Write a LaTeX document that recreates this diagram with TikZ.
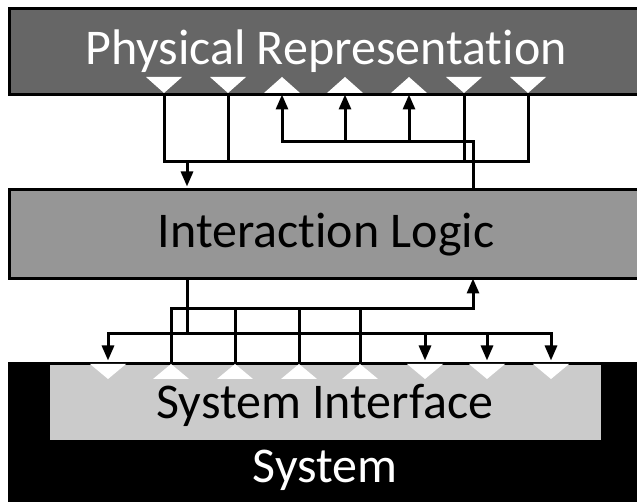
\documentclass[tikz,border=0pt]{standalone}
\usepackage{fontspec}
\setmainfont{Carlito}[Ligatures=NoCommon]
\usetikzlibrary{arrows.meta}
\definecolor{physgray}{HTML}{666666}
\definecolor{logicgray}{HTML}{969696}
\definecolor{ifacegray}{HTML}{CBCBCB}
\begin{document}
\begin{tikzpicture}[x=1pt,y=-1pt,
  layer/.style={draw=black, line width=3pt, rectangle, anchor=north west, inner sep=0pt},
  caption/.style={font=\fontsize{50}{50}\selectfont, anchor=base, inner sep=0pt},
  wire/.style={line width=3pt, line cap=rect},
  arr/.style={line width=3pt, -{Triangle[length=15pt,width=12pt]}},
  porttri/.style={fill=white, draw=none}]
\useasboundingbox (0,0) rectangle (637,502);
\clip (0,0) rectangle (637,502);

% layers
\node[layer, fill=physgray, minimum width=640pt, minimum height=86pt] (phys) at (8,7) {};
\node[layer, fill=logicgray, minimum width=640pt, minimum height=89pt] (logic) at (8,188) {};
\node[layer, fill=black, minimum width=640pt, minimum height=150pt] (sys) at (8,362) {};
\node[fill=ifacegray, anchor=north west, minimum width=551pt, minimum height=75pt, inner sep=0pt] (iface) at (50,365) {};

% labels
\node[caption, text=white] (physlbl) at (326,65) {Physical Representation};
\node[caption] (logiclbl) at (326,248) {Interaction Logic};
\node[caption] (ifacelbl) at (325,418) {System Interface};
\node[caption, text=white] (syslbl) at (325,482) {System};

% ports of the physical representation (outputs point down, inputs up)
\foreach \n/\x in {pd1/164, pd2/228, pd3/464, pd4/528} {
  \fill[porttri] (\x-18,77) -- (\x+18,77) -- (\x,93) -- cycle;
  \coordinate (\n) at (\x,94.5);
}
\foreach \n/\x in {pu1/282, pu2/345, pu3/409} {
  \fill[porttri] (\x-18,93) -- (\x+18,93) -- (\x,77) -- cycle;
  \coordinate (\n) at (\x,94.5);
}
% ports of the system interface
\foreach \n/\x in {sd1/108, sd2/425, sd3/487, sd4/551} {
  \fill[porttri] (\x-18,364) -- (\x+18,364) -- (\x,379) -- cycle;
  \coordinate (\n) at (\x,360.5);
}
\foreach \n/\x in {su1/171, su2/235, su3/299, su4/360} {
  \fill[porttri] (\x-18,379) -- (\x+18,379) -- (\x,364) -- cycle;
  \coordinate (\n) at (\x,360.5);
}

% attachment points on the interaction logic
\coordinate (logicin) at (187,186.5);
\coordinate (logicup) at (473,186.5);
\coordinate (logicdown) at (187,278.5);
\coordinate (logicret) at (473,278.5);

% bus rows
\coordinate (busout) at (0,162);
\coordinate (busin) at (0,142);
\coordinate (buscmd) at (0,334);
\coordinate (busev) at (0,309);

% physical outputs -> interaction logic
\draw[wire] (pd1) -- (pd1 |- busout) -- (pd4 |- busout) -- (pd4);
\draw[wire] (pd2) -- (pd2 |- busout);
\draw[wire] (pd3) -- (pd3 |- busout);
\draw[arr] (logicin |- busout) -- (logicin);

% interaction logic -> physical inputs
\draw[wire] (logicup) -- (logicup |- busin) -- (pu1 |- busin);
\draw[arr] (pu1 |- busin) -- (pu1);
\draw[arr] (pu2 |- busin) -- (pu2);
\draw[arr] (pu3 |- busin) -- (pu3);

% interaction logic -> system inputs
\draw[wire] (logicdown) -- (logicdown |- buscmd);
\draw[wire] (sd1 |- buscmd) -- (sd4 |- buscmd);
\draw[arr] (sd1 |- buscmd) -- (sd1);
\draw[arr] (sd2 |- buscmd) -- (sd2);
\draw[arr] (sd3 |- buscmd) -- (sd3);
\draw[arr] (sd4 |- buscmd) -- (sd4);

% system outputs -> interaction logic
\draw[wire] (su1) -- (su1 |- busev) -- (logicret |- busev);
\draw[wire] (su2) -- (su2 |- busev);
\draw[wire] (su3) -- (su3 |- busev);
\draw[wire] (su4) -- (su4 |- busev);
\draw[arr] (logicret |- busev) -- (logicret);
\end{tikzpicture}
\end{document}
